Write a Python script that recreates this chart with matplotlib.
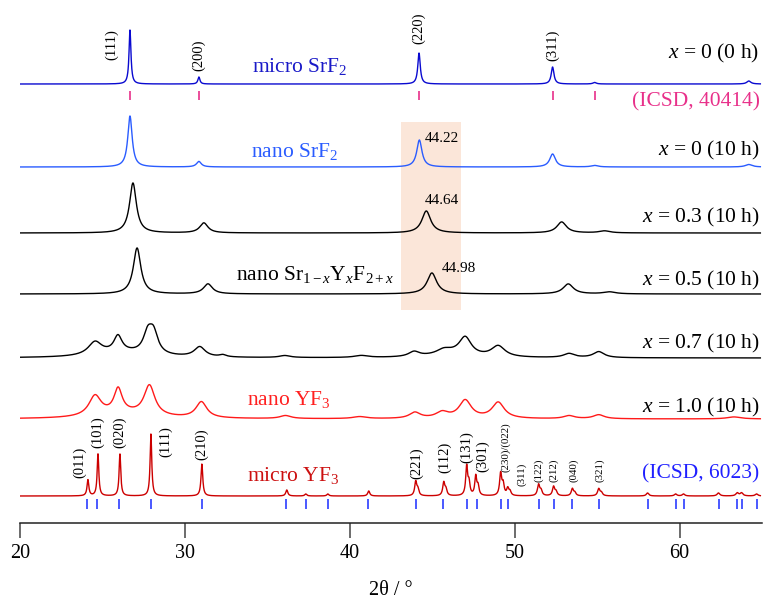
import numpy as np
import matplotlib
matplotlib.use("Agg")
import matplotlib.pyplot as plt
from matplotlib.patches import Rectangle

plt.rcParams['font.family'] = ['Liberation Serif', 'DejaVu Serif']
plt.rcParams['mathtext.fontset'] = 'custom'
plt.rcParams['mathtext.rm'] = 'Liberation Serif'
plt.rcParams['mathtext.it'] = 'Liberation Serif:italic'
plt.rcParams['mathtext.bf'] = 'Liberation Serif:bold'

# --- data: (position 2theta, height, fwhm) per pattern ---
micro_srf2_base = 439
micro_srf2_peaks = [(26.67, 54, 0.14), (30.85, 7, 0.15), (44.20, 31, 0.18),
                    (52.30, 17, 0.20), (54.85, 1.5, 0.25), (64.20, 3, 0.3)]

nano_srf2_base = 356
nano_srf2_peaks = [(26.67, 51, 0.32), (30.85, 5.5, 0.35), (44.22, 27, 0.38),
                   (52.30, 13, 0.42), (54.85, 1.5, 0.5), (64.20, 2.5, 0.5)]

x03_base = 290
x03_peaks = [(26.85, 50, 0.5), (31.15, 10, 0.6), (44.64, 22, 0.65),
             (52.85, 11, 0.7), (55.45, 2, 0.8)]

x05_base = 229
x05_peaks = [(27.10, 46, 0.55), (31.40, 10, 0.65), (44.98, 21, 0.7),
             (53.25, 10, 0.75), (55.75, 2, 0.9)]

x07_base = 165
x07_peaks = [(26.30, 5, 4.0), (24.55, 13, 1.0), (25.94, 16, 0.6), (27.75, 19, 0.65),
             (28.10, 20, 0.65), (30.90, 10, 0.8), (32.30, 2, 0.5), (36.06, 2, 0.8),
             (40.70, 2, 1.0), (43.90, 5, 0.8), (46.00, 4, 2.5), (45.70, 4, 1.0),
             (47.00, 18, 0.9), (49.00, 11, 1.0), (53.30, 4, 0.8), (55.10, 6, 0.8)]

nano_yf3_base = 104
nano_yf3_peaks = [(26.30, 5, 4.0), (24.55, 20, 0.9), (25.95, 24, 0.6), (27.85, 30, 0.8),
                  (31.00, 16, 0.8), (36.10, 3, 0.8), (40.60, 2, 1.0),
                  (43.95, 6, 0.8), (45.60, 6, 0.9), (47.00, 18, 0.9),
                  (49.00, 16, 0.9), (53.30, 3, 0.8), (55.10, 4, 0.8), (63.30, 2, 1.0)]

micro_yf3_base = 27
micro_yf3_peaks = [(24.12, 16, 0.13), (24.73, 42, 0.12), (26.06, 42, 0.12),
                   (27.94, 62, 0.12), (31.03, 32, 0.13), (36.18, 6, 0.15),
                   (37.33, 2, 0.15), (38.67, 2, 0.15), (41.15, 5, 0.15),
                   (44.00, 14, 0.15), (44.13, 6, 0.15), (45.70, 13, 0.15),
                   (45.83, 6, 0.15), (47.09, 29, 0.14), (47.23, 12, 0.14),
                   (47.64, 19, 0.14), (47.78, 9, 0.14), (49.15, 22, 0.15),
                   (49.30, 11, 0.15), (49.58, 7, 0.15), (49.72, 4, 0.15),
                   (51.45, 11, 0.16), (51.60, 5, 0.16), (52.36, 9, 0.16),
                   (52.51, 4, 0.16), (53.50, 7, 0.16), (53.65, 3, 0.16),
                   (55.10, 7, 0.17), (55.26, 3, 0.17), (58.06, 3, 0.18),
                   (59.76, 2, 0.18), (60.24, 2, 0.18), (62.36, 3, 0.2),
                   (63.50, 3, 0.2), (63.76, 3, 0.2), (64.67, 2, 0.2)]

# reference reflections
icsd_40414 = [26.67, 30.85, 44.20, 52.30, 54.85]
icsd_6023 = [24.08, 24.65, 26.00, 27.94, 31.03, 36.12, 37.33, 38.67, 41.10,
             44.00, 45.64, 47.09, 47.70, 49.15, 49.58, 51.45, 52.36, 53.50,
             55.10, 58.06, 59.78, 60.24, 62.40, 63.50, 63.76, 64.68]

srf2_hkl = ['(111)', '(200)', '(220)', '(311)']
srf2_hkl_pos = [(25.58, 478), (30.85, 468), (44.18, 495), (52.30, 478)]

yf3_hkl = ['(011)', '(101)', '(020)', '(111)', '(210)', '(221)', '(112)',
           '(131)', '(301)', '(230)/(022)', '(311)', '(122)', '(212)',
           '(040)', '(321)']
yf3_hkl_pos = [(23.64, 61), (24.73, 91), (26.06, 91), (28.85, 81), (31.03, 79),
               (44.06, 60), (45.76, 66), (47.09, 76), (48.06, 67), (49.45, 76),
               (50.42, 49), (51.45, 53), (52.36, 53), (53.58, 53), (55.15, 53)]
yf3_hkl_small = [False] * 9 + [True] * 6

shift_labels = ['44.22', '44.64', '44.98']
shift_pos = [(44.55, 381), (44.55, 319), (45.58, 251)]


def pattern(x, base, peaks):
    y = np.full_like(x, float(base))
    for pos, h, w in peaks:
        g = (w / 2) ** 2
        y += h * g / ((x - pos) ** 2 + g)
    return y


tt = np.linspace(20, 64.9, 4000)

fig = plt.figure(figsize=(7.66, 6.01), dpi=100)
ax = fig.add_axes([20 / 766, 78 / 601, 742 / 766, 523 / 601])
ax.set_xlim(20, 65)
ax.set_ylim(0, 523)

# highlighted (220) region
ax.add_patch(Rectangle((43.09, 213), 3.64, 188, facecolor='#fbe6d9',
                       edgecolor='none', zorder=0))

lw = 1.0
ax.plot(tt, pattern(tt, micro_srf2_base, micro_srf2_peaks), color='#0a0ad0', lw=lw)
ax.plot(tt, pattern(tt, nano_srf2_base, nano_srf2_peaks), color='#2a5cff', lw=lw)
ax.plot(tt, pattern(tt, x03_base, x03_peaks), color='black', lw=lw)
ax.plot(tt, pattern(tt, x05_base, x05_peaks), color='black', lw=lw)
ax.plot(tt, pattern(tt, x07_base, x07_peaks), color='black', lw=lw)
ax.plot(tt, pattern(tt, nano_yf3_base, nano_yf3_peaks), color='#ff1a1a', lw=lw)
ax.plot(tt, pattern(tt, micro_yf3_base, micro_yf3_peaks), color='#cc0000', lw=lw)

ax.vlines(icsd_40414, 423, 432, color='#e8308a', lw=1.2)
ax.vlines(icsd_6023, 14, 24, color='#2b3cff', lw=1.2)

fs = 15.5
ax.text(36.97, 451, r'micro SrF$_2$', color='#1a1ac8', fontsize=fs, ha='center', va='baseline')
ax.text(36.67, 366, r'nano SrF$_2$', color='#2a5cff', fontsize=fs, ha='center', va='baseline')
ax.text(37.88, 243, r'nano Sr$_{1-x}$Y$_x$F$_{2+x}$', color='black', fontsize=fs,
        ha='center', va='baseline')
ax.text(36.30, 118, r'nano YF$_3$', color='#ff2020', fontsize=fs, ha='center', va='baseline')
ax.text(36.55, 42, r'micro YF$_3$', color='#cc1010', fontsize=fs, ha='center', va='baseline')

right_x = 64.85
ax.text(right_x, 465, r'$x$ = 0 (0 h)', fontsize=fs, ha='right', va='baseline')
ax.text(right_x, 417, '(ICSD, 40414)', color='#e8308a', fontsize=fs, ha='right', va='baseline')
ax.text(right_x, 368, r'$x$ = 0 (10 h)', fontsize=fs, ha='right', va='baseline')
ax.text(right_x, 301, r'$x$ = 0.3 (10 h)', fontsize=fs, ha='right', va='baseline')
ax.text(right_x, 238, r'$x$ = 0.5 (10 h)', fontsize=fs, ha='right', va='baseline')
ax.text(right_x, 175, r'$x$ = 0.7 (10 h)', fontsize=fs, ha='right', va='baseline')
ax.text(right_x, 111, r'$x$ = 1.0 (10 h)', fontsize=fs, ha='right', va='baseline')
ax.text(right_x, 45, '(ICSD, 6023)', color='#2020ff', fontsize=fs, ha='right', va='baseline')

for lab, (px, py) in zip(srf2_hkl, srf2_hkl_pos):
    ax.text(px, py, lab, rotation=90, fontsize=10.5, ha='center', va='center')

for lab, (px, py), small in zip(yf3_hkl, yf3_hkl_pos, yf3_hkl_small):
    ax.text(px, py, lab, rotation=90, fontsize=7.8 if small else 10.5,
            ha='center', va='center')

for lab, (px, py) in zip(shift_labels, shift_pos):
    ax.text(px, py, lab, fontsize=11, ha='left', va='baseline')

for s in ['left', 'right', 'top']:
    ax.spines[s].set_visible(False)
ax.spines['bottom'].set_color('#222222')
ax.spines['bottom'].set_linewidth(1.1)
ax.set_yticks([])
ax.set_xticks([20, 30, 40, 50, 60])
ax.tick_params(axis='x', length=10.8, width=1.1, color='#444444', pad=4, labelsize=14.5)
ax.set_xlabel('2θ / °', fontsize=14.5, labelpad=13)

fig.savefig('out.png', dpi=100)
